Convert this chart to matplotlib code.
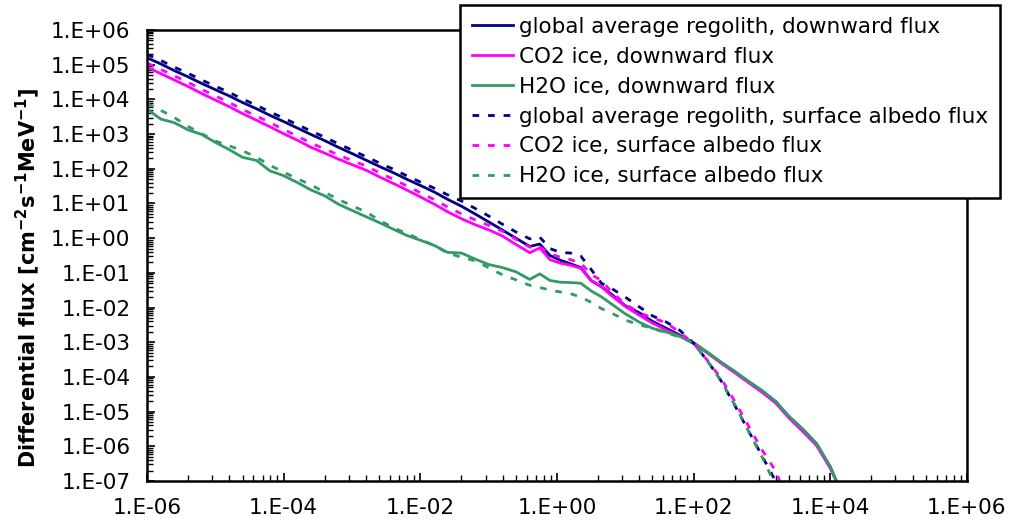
import numpy as np
import matplotlib
matplotlib.use("Agg")
import matplotlib.pyplot as plt
from matplotlib.ticker import FixedLocator, FuncFormatter, LogLocator, NullFormatter

plt.rcParams["font.family"] = ["DejaVu Sans"]
plt.rcParams["mathtext.fontset"] = "dejavusans"

# energy grid [MeV]
energy = [
    1.0e-6, 1.6e-6, 2.5e-6, 4.0e-6, 6.3e-6,
    1.0e-5, 1.6e-5, 2.5e-5, 4.0e-5, 6.3e-5,
    1.0e-4, 1.6e-4, 2.5e-4, 4.0e-4, 6.3e-4,
    1.0e-3, 1.6e-3, 2.5e-3, 4.0e-3, 6.3e-3,
    1.0e-2, 1.6e-2, 2.5e-2, 4.0e-2, 6.3e-2,
    0.10, 0.16, 0.25, 0.40,
    0.56, 0.79, 1.12, 1.58, 2.24, 3.16, 4.47, 6.31,
    10, 16, 25, 40, 63, 100, 160, 250, 400, 630,
    1000, 1600, 2500, 4000, 6300, 10000, 12600,
]

# log10 of differential flux
nan = np.nan
log_regolith_down = [
    5.20, 5.02, 4.83, 4.65, 4.46, 4.28, 4.10, 3.91, 3.73, 3.54,
    3.36, 3.17, 2.99, 2.81, 2.62, 2.44, 2.25, 2.07, 1.89, 1.70,
    1.52, 1.33, 1.12, 0.92, 0.70, 0.47, 0.23, 0.00, -0.24,
    -0.17, -0.50, -0.64, -0.74, -0.85, -1.22, -1.40, -1.62,
    -1.95, -2.15, -2.40, -2.60, -2.80, -3.03, -3.30, -3.58, -3.85, -4.13,
    -4.40, -4.72, -5.15, -5.52, -5.93, -6.60, -7.05,
]
log_co2_down = [
    4.93, 4.74, 4.56, 4.37, 4.17, 3.98, 3.79, 3.59, 3.40, 3.21,
    3.01, 2.82, 2.62, 2.45, 2.28, 2.12, 1.96, 1.77, 1.58, 1.39,
    1.19, 0.98, 0.76, 0.56, 0.39, 0.24, 0.06, -0.18, -0.42,
    -0.28, -0.62, -0.72, -0.78, -0.87, -1.22, -1.40, -1.66,
    -1.97, -2.22, -2.45, -2.65, -2.83, -3.03, -3.31, -3.60, -3.88, -4.16,
    -4.44, -4.76, -5.19, -5.58, -5.98, -6.63, -7.05,
]
log_h2o_down = [
    3.72, 3.43, 3.33, 3.12, 2.99, 2.76, 2.55, 2.33, 2.24, 1.94,
    1.80, 1.60, 1.39, 1.22, 0.98, 0.80, 0.62, 0.45, 0.26, 0.08,
    -0.06, -0.21, -0.41, -0.43, -0.60, -0.76, -0.85, -0.97, -1.19,
    -1.03, -1.22, -1.27, -1.28, -1.30, -1.52, -1.69, -1.90,
    -2.18, -2.42, -2.60, -2.71, -2.83, -3.01, -3.29, -3.57, -3.84, -4.12,
    -4.39, -4.71, -5.14, -5.51, -5.92, -6.58, -7.05,
]
log_regolith_albedo = [
    5.30, 5.12, 4.93, 4.75, 4.56, 4.38, 4.20, 4.01, 3.83, 3.64,
    3.46, 3.27, 3.09, 2.91, 2.72, 2.54, 2.35, 2.17, 1.99, 1.80,
    1.62, 1.44, 1.25, 1.07, 0.86, 0.64, 0.40, 0.18, -0.02,
    0.03, -0.30, -0.41, -0.43, -0.52, -0.90, -1.30, -1.45,
    -1.70, -1.98, -2.24, -2.42, -2.66, -3.03, -3.54, -4.10, -4.82, -5.54,
    -6.27, -7.02, -7.90, nan, nan, nan, nan,
]
log_co2_albedo = [
    5.05, 4.86, 4.68, 4.49, 4.29, 4.10, 3.91, 3.71, 3.52, 3.33,
    3.13, 2.94, 2.74, 2.57, 2.40, 2.24, 2.08, 1.89, 1.70, 1.51,
    1.31, 1.11, 0.90, 0.70, 0.53, 0.37, 0.20, -0.03, -0.26,
    -0.25, -0.45, -0.55, -0.62, -0.72, -1.05, -1.22, -1.55,
    -1.90, -2.15, -2.30, -2.44, -2.72, -3.03, -3.53, -4.03, -4.70, -5.40,
    -6.10, -6.72, -7.70, nan, nan, nan, nan,
]
log_h2o_albedo = [
    3.88, 3.68, 3.48, 3.22, 3.01, 2.80, 2.66, 2.52, 2.33, 2.10,
    1.90, 1.71, 1.54, 1.32, 1.12, 0.93, 0.76, 0.52, 0.30, 0.14,
    -0.04, -0.21, -0.43, -0.55, -0.65, -0.85, -1.06, -1.20, -1.36,
    -1.42, -1.50, -1.55, -1.60, -1.70, -1.85, -2.03, -2.16,
    -2.36, -2.50, -2.60, -2.73, -2.85, -3.03, -3.55, -4.10, -4.80, -5.55,
    -6.30, -7.15, -8.00, nan, nan, nan, nan,
]

labels = [
    "global average regolith, downward flux",
    "CO2 ice, downward flux",
    "H2O ice, downward flux",
    "global average regolith, surface albedo flux",
    "CO2 ice, surface albedo flux",
    "H2O ice, surface albedo flux",
]
series = [log_regolith_down, log_co2_down, log_h2o_down,
          log_regolith_albedo, log_co2_albedo, log_h2o_albedo]
colors = ["#000080", "#FF00FF", "#339966"] * 2
dash = (0, (2.4, 3.2))
styles = ["-"] * 3 + [dash] * 3

fig = plt.figure(figsize=(10.21, 5.32), dpi=100)
ax = fig.add_axes([0.144, 0.0959, 0.803, 0.8477])

for vals, lab, c, ls in zip(series, labels, colors, styles):
    ax.plot(energy, 10.0 ** np.array(vals), color=c, ls=ls, lw=2.0, label=lab)

ax.set_xscale("log")
ax.set_yscale("log")
ax.set_xlim(1e-6, 1e6)
ax.set_ylim(1e-7, 1e6)

fmt = FuncFormatter(lambda v, p: "1.E{:+03d}".format(int(round(np.log10(v)))))
ax.xaxis.set_major_locator(FixedLocator([10.0 ** e for e in range(-6, 7, 2)]))
ax.xaxis.set_minor_locator(FixedLocator(
    [10.0 ** e * k * k for e in range(-6, 6, 2) for k in range(2, 10)]))
ax.yaxis.set_major_locator(FixedLocator([10.0 ** e for e in range(-7, 7)]))
ax.yaxis.set_minor_locator(LogLocator(base=10, subs=np.arange(2, 10), numticks=40))
ax.xaxis.set_major_formatter(fmt)
ax.yaxis.set_major_formatter(fmt)
ax.xaxis.set_minor_formatter(NullFormatter())
ax.yaxis.set_minor_formatter(NullFormatter())

ax.tick_params(which="major", direction="in", length=6, width=1.2, labelsize=15.5, pad=12)
ax.tick_params(which="minor", direction="in", length=4, width=1.0)
ax.tick_params(axis="y", pad=12)
for s in ax.spines.values():
    s.set_linewidth(1.8)

ax.set_ylabel(r"Differential flux [cm$^{\mathbf{-2}}$s$^{\mathbf{-1}}$MeV$^{\mathbf{-1}}$]",
              fontsize=15, fontweight="bold")
ax.yaxis.set_label_coords(-0.128, 0.45)

leg = ax.legend(loc="upper left", bbox_to_anchor=(0.4505, 0.9906),
                bbox_transform=fig.transFigure, borderaxespad=0,
                fontsize=15.5, frameon=True, fancybox=False, framealpha=1,
                edgecolor="black", handlelength=1.9, handletextpad=0.28,
                borderpad=0.55, labelspacing=0.46)
leg.get_frame().set_linewidth(1.8)

fig.savefig("out.png", dpi=100)
